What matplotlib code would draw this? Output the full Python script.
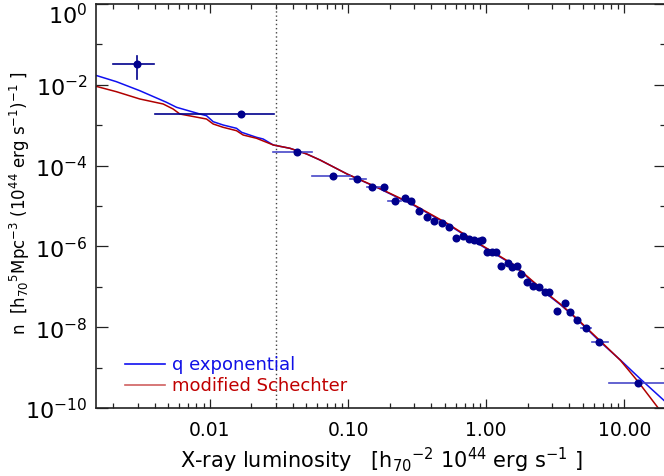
import numpy as np
import matplotlib
matplotlib.use("Agg")
import matplotlib.pyplot as plt
from matplotlib.ticker import FixedLocator, NullFormatter, FixedFormatter
from matplotlib.transforms import ScaledTranslation

# --- measured luminosity function points ---
pts_L = [0.00296, 0.0168, 0.0427, 0.0778, 0.116, 0.149, 0.182, 0.219, 0.259, 0.286,
         0.327, 0.373, 0.42, 0.48, 0.54, 0.607, 0.68, 0.753, 0.819, 0.89,
         0.936, 1.016, 1.10, 1.17, 1.28, 1.44, 1.54, 1.66, 1.79, 1.98,
         2.19, 2.42, 2.68, 2.86, 3.27, 3.73, 4.06, 4.56, 5.30, 6.59, 12.6]
pts_n = [3.27e-2, 1.89e-3, 2.17e-4, 5.53e-5, 4.66e-5, 2.95e-5, 2.95e-5, 1.33e-5, 1.58e-5, 1.33e-5,
         7.5e-6, 5.3e-6, 4.25e-6, 3.8e-6, 3.0e-6, 1.62e-6, 1.81e-6, 1.51e-6, 1.44e-6, 1.36e-6,
         1.44e-6, 7.27e-7, 7.27e-7, 7.27e-7, 3.27e-7, 3.88e-7, 3.09e-7, 3.27e-7, 2.07e-7, 1.31e-7,
         1.05e-7, 9.9e-8, 7.43e-8, 7.43e-8, 2.52e-8, 3.98e-8, 2.38e-8, 1.51e-8, 9.55e-9, 4.3e-9, 4.16e-10]

# bin widths (horizontal error bars)
bar_L = [0.00296, 0.0168, 0.0427, 0.0778, 0.116, 0.149, 0.219, 5.30, 6.59, 12.6]
bar_n = [3.27e-2, 1.89e-3, 2.17e-4, 5.53e-5, 4.66e-5, 2.95e-5, 1.33e-5, 9.55e-9, 4.3e-9, 4.16e-10]
bar_lo = [0.00198, 0.0040, 0.0286, 0.0548, 0.103, 0.137, 0.196, 4.85, 5.86, 7.78]
bar_hi = [0.00393, 0.029, 0.0548, 0.103, 0.135, 0.170, 0.240, 5.70, 7.66, 25.0]
# vertical error of the faintest bin
vbar_L = [0.00296]
vbar_lo = [0.0139]
vbar_hi = [0.0516]

# --- model curves (log10 L, log10 n) ---
blue_logL = [-2.826, -2.676, -2.507, -2.314, -2.241, -2.072, -2.024, -1.976, -1.904, -1.807,
             -1.770, -1.662, -1.614, -1.541, -1.420, -1.299, -1.203, -1.007, -0.768, -0.529,
             -0.283, -0.043, 0.196, 0.442, 0.536, 0.659, 0.826, 0.971, 1.116, 1.283, 1.348]
blue_logn = [-1.765, -1.923, -2.146, -2.433, -2.557, -2.723, -2.765, -2.913, -2.995, -3.077,
             -3.176, -3.300, -3.342, -3.490, -3.572, -3.713, -3.861, -4.208, -4.579, -4.975,
             -5.446, -5.965, -6.460, -7.190, -7.440, -7.810, -8.366, -8.812, -9.282, -9.802, -10.01]
red_logL = [-2.826, -2.676, -2.507, -2.338, -2.266, -2.217, -2.024, -1.976, -1.904, -1.807,
            -1.759, -1.662, -1.541, -1.420, -1.299, -1.203, -1.007, -0.768, -0.529, -0.283,
            -0.043, 0.196, 0.442, 0.536, 0.659, 0.826, 0.971, 1.101, 1.239, 1.297]
red_logn = [-2.035, -2.171, -2.351, -2.475, -2.599, -2.723, -2.847, -2.970, -3.052, -3.136,
            -3.243, -3.324, -3.490, -3.572, -3.713, -3.861, -4.208, -4.570, -4.960, -5.430,
            -5.950, -6.445, -7.170, -7.426, -7.797, -8.342, -8.820, -9.356, -9.975, -10.24]

L_cut = 0.03
xtick_vals = [0.01, 0.1, 1.0, 10.0]
xtick_labels = ["0.01", "0.10", "1.00", "10.00"]

fig = plt.figure(figsize=(6.64, 4.77), dpi=100)
ax = fig.add_axes([96 / 664, 1 - 409 / 477, 570 / 664, 404 / 477])
ax.set_xscale("log")
ax.set_yscale("log")
ax.set_xlim(0.0015, 20)
ax.set_ylim(1e-10, 1)

navy = "#00008c"
barblue = "#4848c8"

ax.axvline(L_cut, color="#444444", linestyle=(0, (1, 2.0)), linewidth=1.0, zorder=1)

ax.plot(10 ** np.array(blue_logL), 10 ** np.array(blue_logn), color="#1010f0", lw=1.1, zorder=2)
ax.plot(10 ** np.array(red_logL), 10 ** np.array(red_logn), color="#b00000", lw=1.1, zorder=2)

for i in range(len(bar_L)):
    c = navy if i < 2 else barblue
    ax.plot([bar_lo[i], bar_hi[i]], [bar_n[i], bar_n[i]], color=c, lw=1.2, zorder=3)
for x, lo, hi in zip(vbar_L, vbar_lo, vbar_hi):
    ax.plot([x, x], [lo, hi], color=navy, lw=1.2, zorder=3)

ax.plot(pts_L, pts_n, "o", color=navy, markersize=5.8, markeredgewidth=0, zorder=4)

# axes styling
for s in ax.spines.values():
    s.set_linewidth(1.2)
    s.set_color("#222222")

ax.xaxis.set_major_locator(FixedLocator(xtick_vals))
ax.xaxis.set_major_formatter(FixedFormatter(xtick_labels))
minors = [m * 10.0 ** e for e in range(-3, 2) for m in range(2, 10)]
ax.xaxis.set_minor_locator(FixedLocator(minors))
ax.xaxis.set_minor_formatter(NullFormatter())

ymaj = [10.0 ** e for e in range(-10, 1, 2)]
ymin = [10.0 ** e for e in range(-9, 0, 2)]
ax.yaxis.set_major_locator(FixedLocator(ymaj))
ax.yaxis.set_major_formatter(FixedFormatter([r"$10^{%d}$" % e for e in range(-10, 1, 2)]))
ax.yaxis.set_minor_locator(FixedLocator(ymin))
ax.yaxis.set_minor_formatter(NullFormatter())

ax.tick_params(axis="x", which="major", direction="in", length=6.5, width=0.9, top=True,
               labelsize=13.5, pad=9, colors="#222222", labelcolor="black")
ax.tick_params(axis="x", which="minor", direction="in", length=3.5, width=0.9, top=True,
               colors="#222222")
ax.tick_params(axis="y", which="major", direction="in", length=8.6, width=0.9, right=True,
               labelsize=16, pad=6, colors="#222222", labelcolor="black")
ax.tick_params(axis="y", which="minor", direction="in", length=4.3, width=0.9, right=True,
               colors="#222222")

# keep the topmost y label inside the figure
fig.canvas.draw()
top_label = ax.yaxis.get_majorticklabels()[-1]
top_label.set_transform(top_label.get_transform() + ScaledTranslation(0, -6 / 72, fig.dpi_scale_trans))

ax.set_xlabel(r"X-ray luminosity   [h$_{70}$$^{-2}$ 10$^{44}$ erg s$^{-1}$ ]", fontsize=15, labelpad=4)
ax.set_ylabel(r"n  [h$_{70}$$^{5}$Mpc$^{-3}$ (10$^{44}$ erg s$^{-1}$)$^{-1}$ ]", fontsize=12)
ax.yaxis.set_label_coords(-0.113, 0.51)

# legend drawn by hand
ax.plot([0.051, 0.121], [0.109, 0.109], color="#1010f0", lw=1.2, transform=ax.transAxes)
ax.text(0.133, 0.109, "q exponential", color="#1010e6", fontsize=13, va="center", ha="left",
        transform=ax.transAxes)
ax.plot([0.051, 0.121], [0.057, 0.057], color="#d06060", lw=1.2, transform=ax.transAxes)
ax.text(0.133, 0.057, "modified Schechter", color="#c00000", fontsize=13, va="center", ha="left",
        transform=ax.transAxes)

fig.savefig("out.png", dpi=100)
